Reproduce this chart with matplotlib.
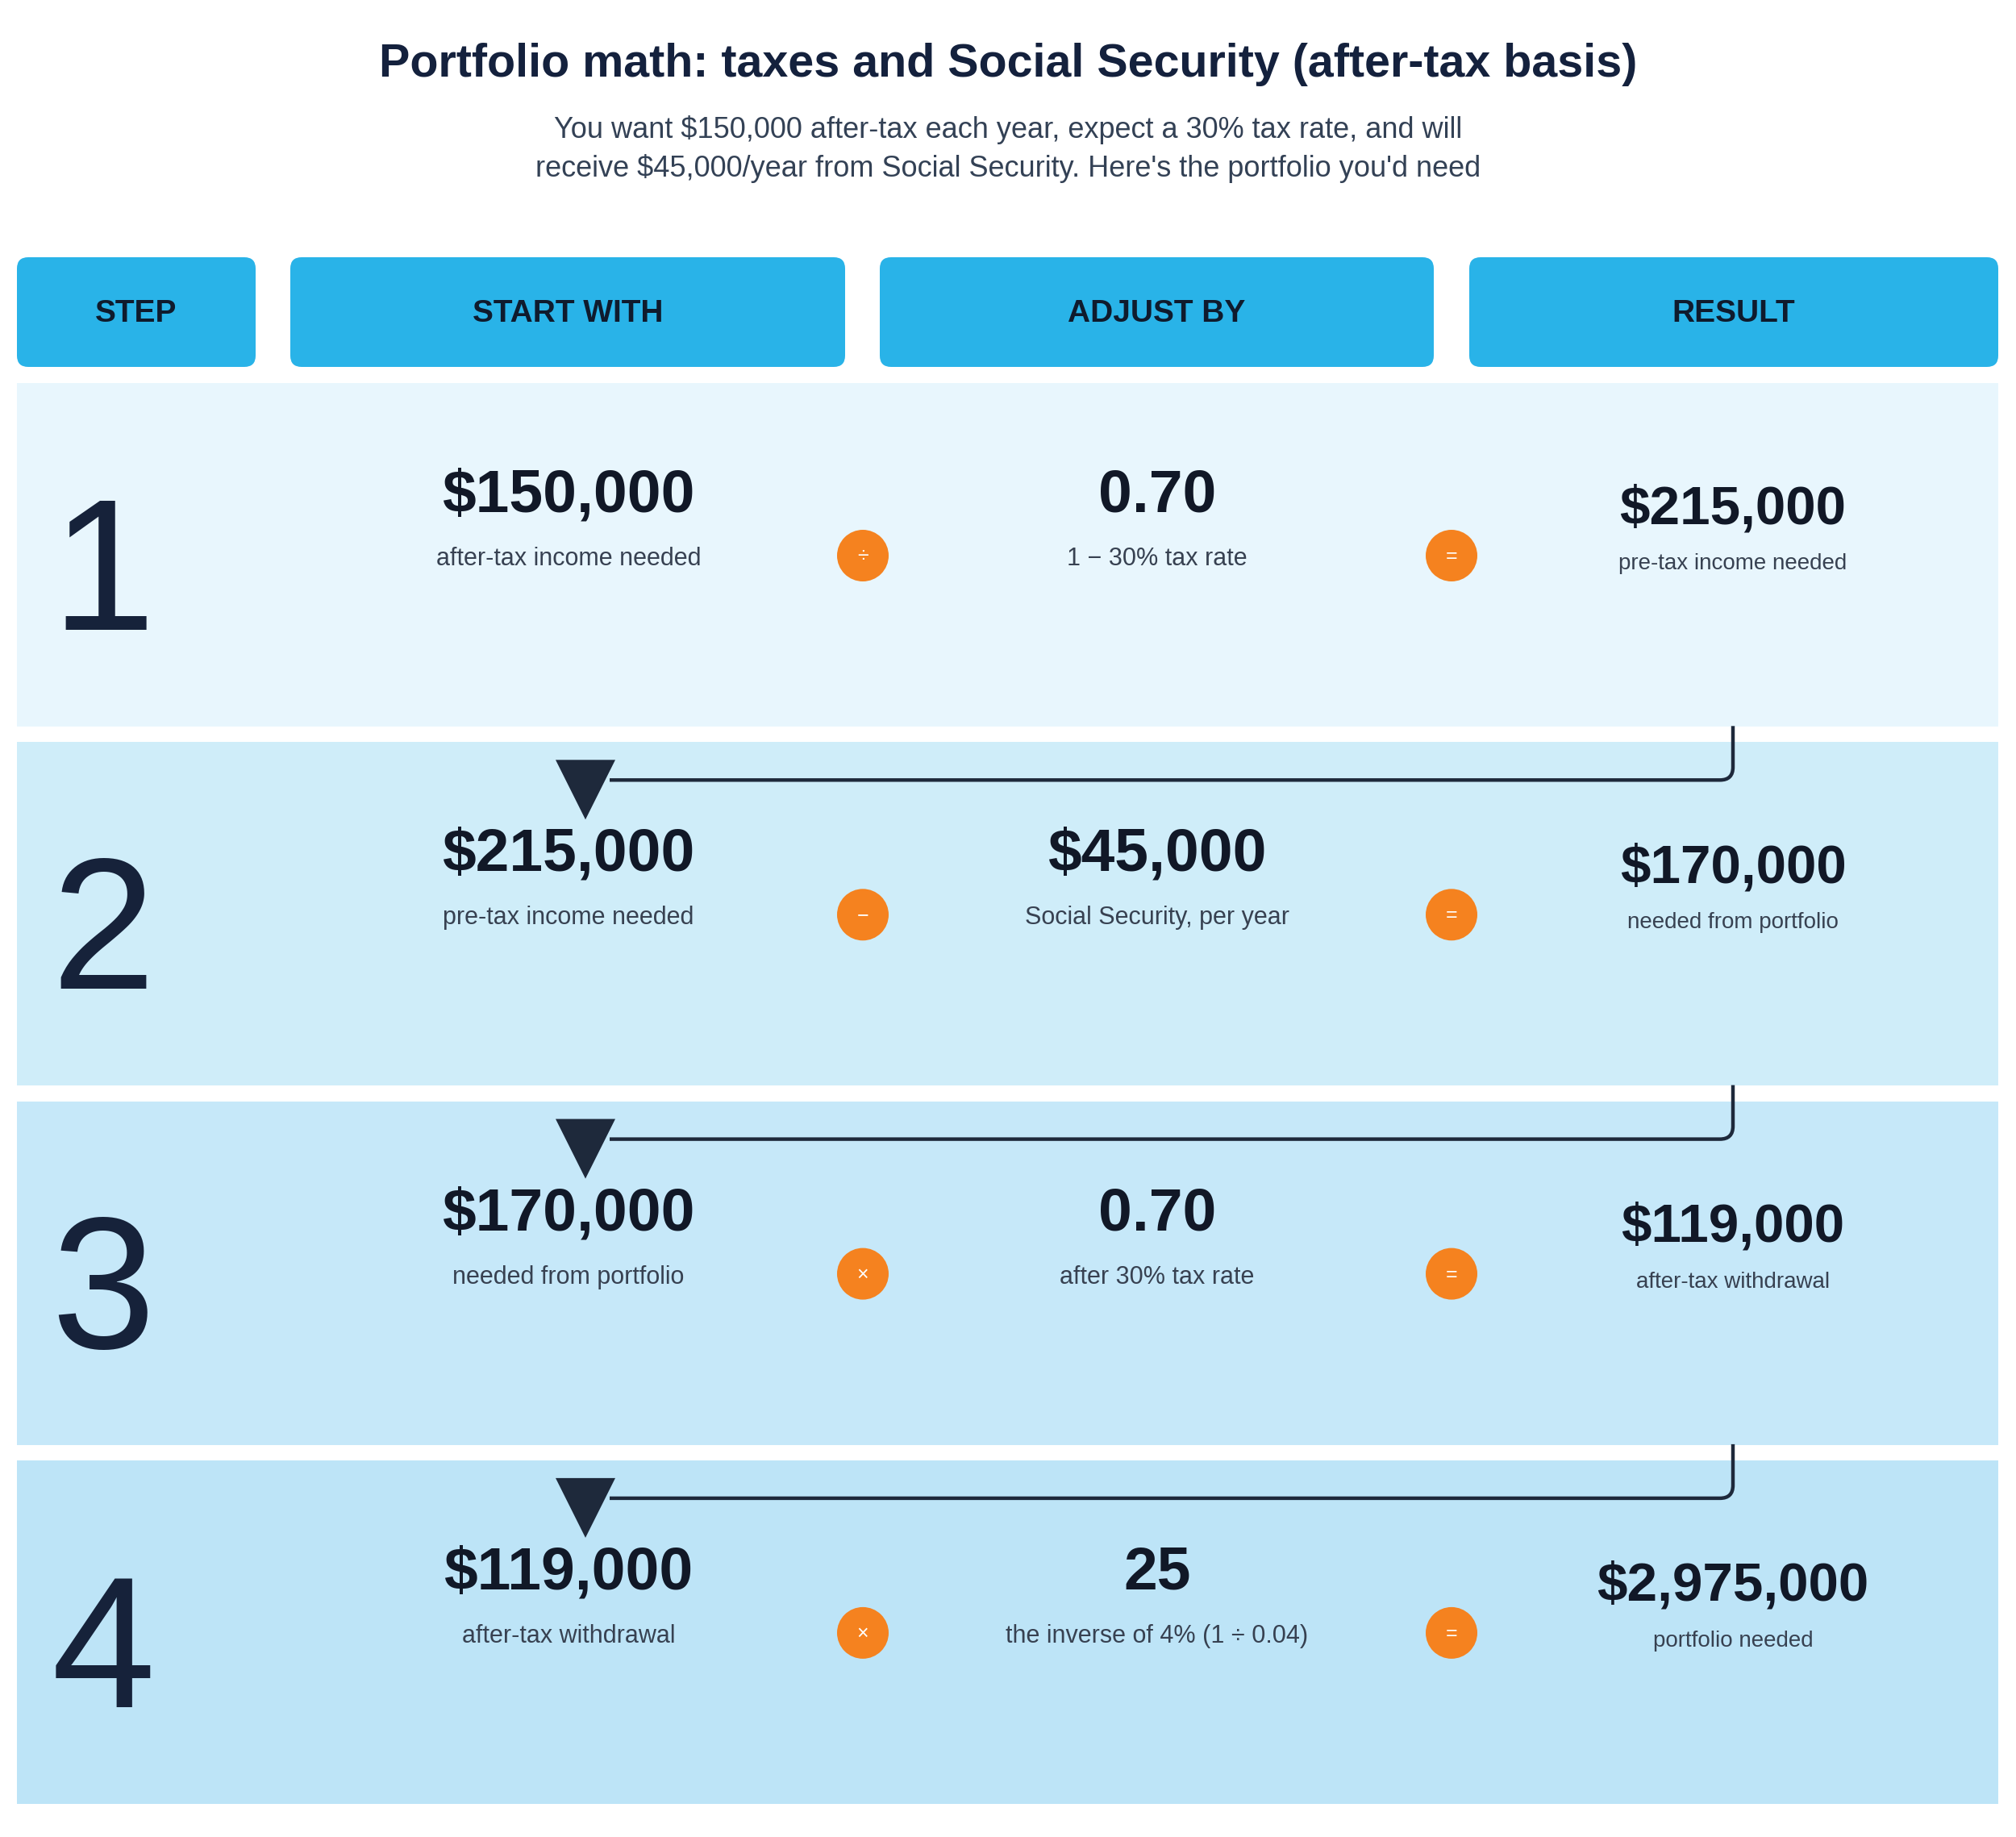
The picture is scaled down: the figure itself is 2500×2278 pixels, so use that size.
import matplotlib
matplotlib.use("Agg")
import matplotlib.pyplot as plt
from matplotlib.patches import FancyBboxPatch, Rectangle, Circle, Polygon, PathPatch
from matplotlib.path import Path

plt.rcParams['font.family'] = ['Liberation Sans', 'DejaVu Sans']

# --- data ---
title = "Portfolio math: taxes and Social Security (after-tax basis)"
subtitle = ["You want $150,000 after-tax each year, expect a 30% tax rate, and will",
            "receive $45,000/year from Social Security. Here's the portfolio you'd need"]
headers = ["STEP", "START WITH", "ADJUST BY", "RESULT"]
steps = ["1", "2", "3", "4"]
start_values = ["$150,000", "$215,000", "$170,000", "$119,000"]
start_labels = ["after-tax income needed", "pre-tax income needed",
                "needed from portfolio", "after-tax withdrawal"]
operators = ["÷", "−", "×", "×"]
adjust_values = ["0.70", "$45,000", "0.70", "25"]
adjust_labels = ["1 − 30% tax rate", "Social Security, per year",
                 "after 30% tax rate", "the inverse of 4% (1 ÷ 0.04)"]
result_values = ["$215,000", "$170,000", "$119,000", "$2,975,000"]
result_labels = ["pre-tax income needed", "needed from portfolio",
                 "after-tax withdrawal", "portfolio needed"]

# --- style ---
W, H = 2500, 2278
row_colors = ["#E8F6FD", "#CFEDF9", "#C6E8F9", "#BDE4F7"]
header_color = "#29B3E8"
navy = "#16223A"
dark = "#111827"
label_col = "#374151"
orange = "#F5821F"
line_col = "#1E293B"

fig = plt.figure(figsize=(W / 100, H / 100), dpi=100)
ax = fig.add_axes([0, 0, 1, 1])
ax.set_xlim(0, W)
ax.set_ylim(H, 0)
ax.axis("off")

ax.text(W / 2, 80, title, ha="center", va="center", fontsize=41.3,
        fontweight="bold", color="#14213D")
for i, line in enumerate(subtitle):
    ax.text(W / 2, 161 + i * 48, line, ha="center", va="center",
            fontsize=26, color="#334155")

# header boxes
hx = [(21, 317), (360, 1048), (1091, 1778), (1822, 2478)]
hy0, hy1 = 319, 455
for (x0, x1), h in zip(hx, headers):
    ax.add_patch(FancyBboxPatch((x0, hy0), x1 - x0, hy1 - hy0,
                                boxstyle="round,pad=0,rounding_size=14",
                                fc=header_color, ec="none"))
    ax.text((x0 + x1) / 2, (hy0 + hy1) / 2 + 2, h, ha="center", va="center",
            fontsize=28, fontweight="bold", color="#0F1B2D")

# rows
row_top0, row_h, row_step = 475, 426, 445.3
x_step, x_start, x_adj, x_res = 128, 705, 1435, 2149
x_op1, x_op2 = 1070, 1800
for i in range(len(steps)):
    top = row_top0 + i * row_step
    ax.add_patch(Rectangle((21, top), 2457, row_h, fc=row_colors[i], ec="none"))
    ax.text(x_step, top + 246, steps[i], ha="center", va="center",
            fontsize=167, color=navy)
    ax.text(x_start, top + 140, start_values[i], ha="center", va="center",
            fontsize=54, fontweight="bold", color=dark)
    ax.text(x_start, top + 218, start_labels[i], ha="center", va="center",
            fontsize=22, color=label_col)
    ax.text(x_adj, top + 140, adjust_values[i], ha="center", va="center",
            fontsize=54, fontweight="bold", color=dark)
    ax.text(x_adj, top + 218, adjust_labels[i], ha="center", va="center",
            fontsize=22, color=label_col)
    ax.text(x_res, top + 157, result_values[i], ha="center", va="center",
            fontsize=48.5, fontweight="bold", color=dark)
    ax.text(x_res, top + 224, result_labels[i], ha="center", va="center",
            fontsize=20, color=label_col)
    for xo, sym in [(x_op1, operators[i]), (x_op2, "=")]:
        ax.add_patch(Circle((xo, top + 214), 32, fc=orange, ec="none"))
        ax.text(xo, top + 215, sym, ha="center", va="center",
                fontsize=18, color="white")

    # connector from previous result
    if i > 0:
        yv0 = top - 20
        yh = top + 47
        r = 16
        verts = [(x_res, yv0), (x_res, yh - r), (x_res, yh), (x_res - r, yh),
                 (756, yh)]
        codes = [Path.MOVETO, Path.LINETO, Path.CURVE3, Path.CURVE3, Path.LINETO]
        ax.add_patch(PathPatch(Path(verts, codes), fc="none", ec=line_col,
                               lw=3.2, capstyle="butt", joinstyle="round"))
        ax.add_patch(Polygon([(689, top + 22), (763, top + 22), (726, top + 96)],
                             closed=True, fc=line_col, ec="none"))

fig.savefig("out.png", dpi=100, facecolor="white")
